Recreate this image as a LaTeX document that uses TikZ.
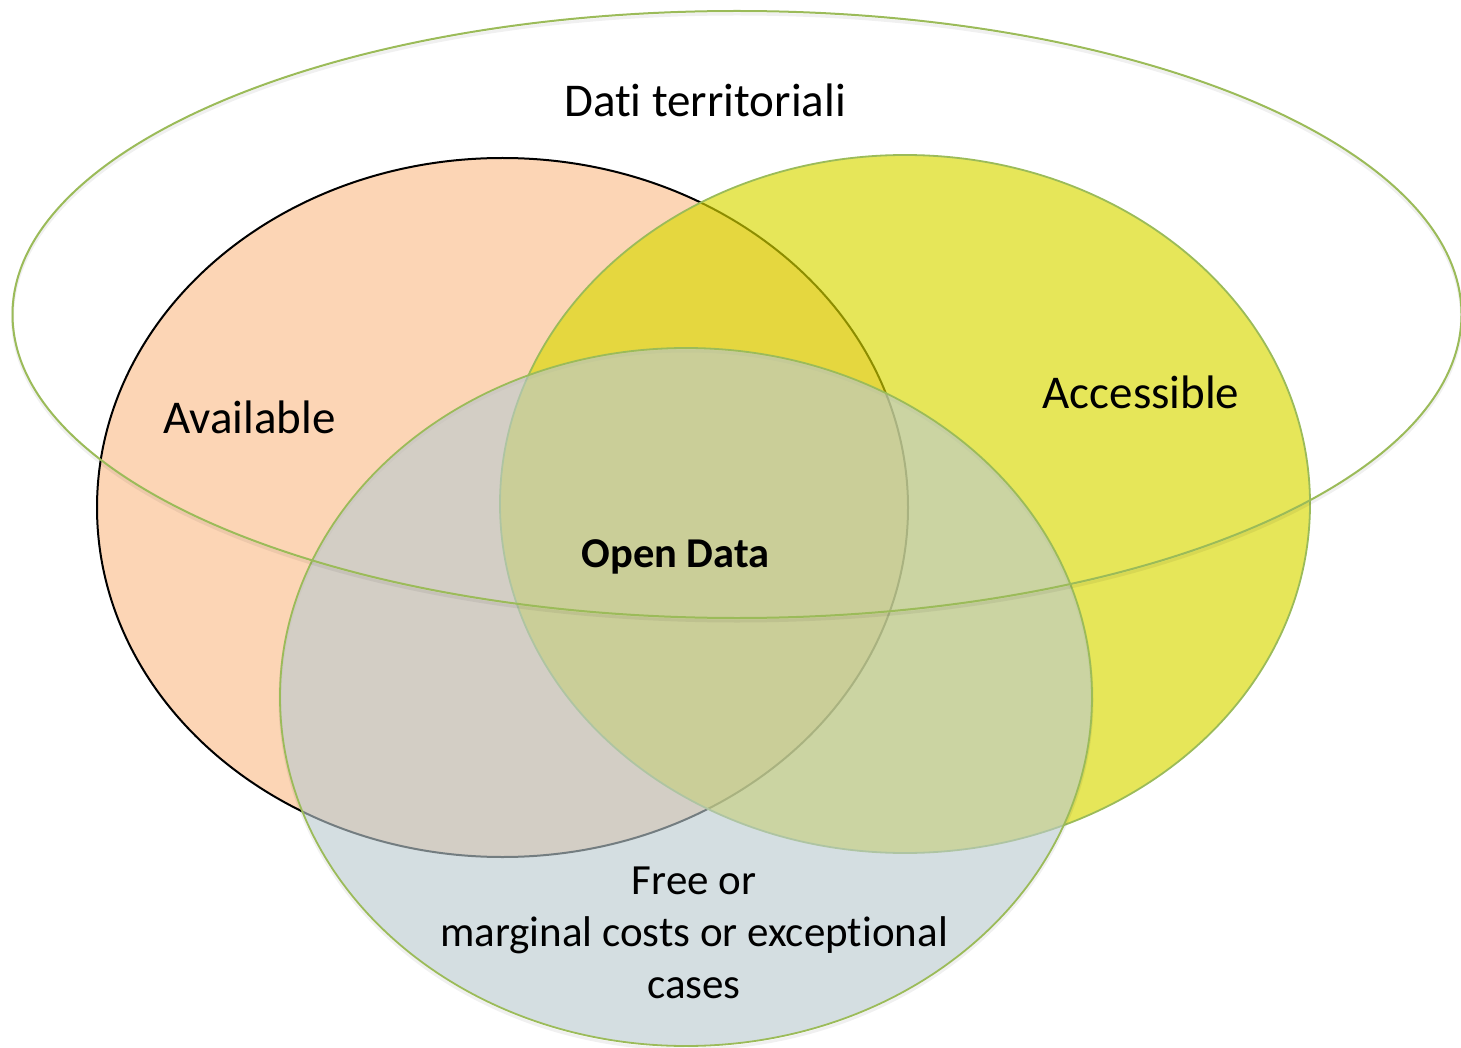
\documentclass[tikz,border=0pt]{standalone}
\usepackage{fontspec}
\setmainfont{Carlito}[RawFeature={-liga;-clig;-calt;-dlig}]
\definecolor{orangefill}{RGB}{252,213,181}
\definecolor{yellowbase}{RGB}{217,217,0}
\definecolor{freebase}{RGB}{187,202,208}
\definecolor{olgreen}{RGB}{155,187,89}
\begin{document}
\begin{tikzpicture}[x=1pt,y=-1pt,
  lbl/.style={font=\fontsize{47}{52}\selectfont, inner sep=0pt, anchor=base, text=black},
  smalllbl/.style={font=\fontsize{43}{52}\selectfont, inner sep=0pt, text=black},
  boldlbl/.style={font=\fontsize{42.5}{52}\selectfont\bfseries, inner sep=0pt, anchor=base, text=black},
  ring/.style={draw=olgreen, line width=1.8pt},
  shadowline/.style={draw=black, line width=3pt, opacity=0.06}]
\useasboundingbox (0,0) rectangle (1461,1048);
\fill[white] (0,0) rectangle (1461,1048);
% Available
\draw[black, line width=2pt, fill=orangefill] (502.5,507.5) ellipse [x radius=405.5, y radius=349.5];
% Accessible
\draw[ring, fill=yellowbase, fill opacity=0.65] (905,504) ellipse [x radius=405, y radius=349];
% Free
\draw[shadowline] (686,700) ellipse [x radius=406, y radius=349];
\draw[ring, fill=freebase, fill opacity=0.62] (686,697) ellipse [x radius=406, y radius=349];
% Dati territoriali
\draw[shadowline] (737,317.5) ellipse [x radius=724.5, y radius=303.5];
\draw[ring, line width=2pt] (737,314.5) ellipse [x radius=724.5, y radius=303.5];
% texts
\node[lbl] (title) at (705,117) {Dati territoriali};
\node[lbl] (avail) at (249.5,433) {Available};
\node[lbl] (access) at (1141,408) {Accessible};
\node[boldlbl] (open) at (675.5,567) {Open Data};
\node[smalllbl, anchor=north, align=center] (free) at (694,866.5) {Free or\\marginal costs or exceptional\\cases};
\end{tikzpicture}
\end{document}
